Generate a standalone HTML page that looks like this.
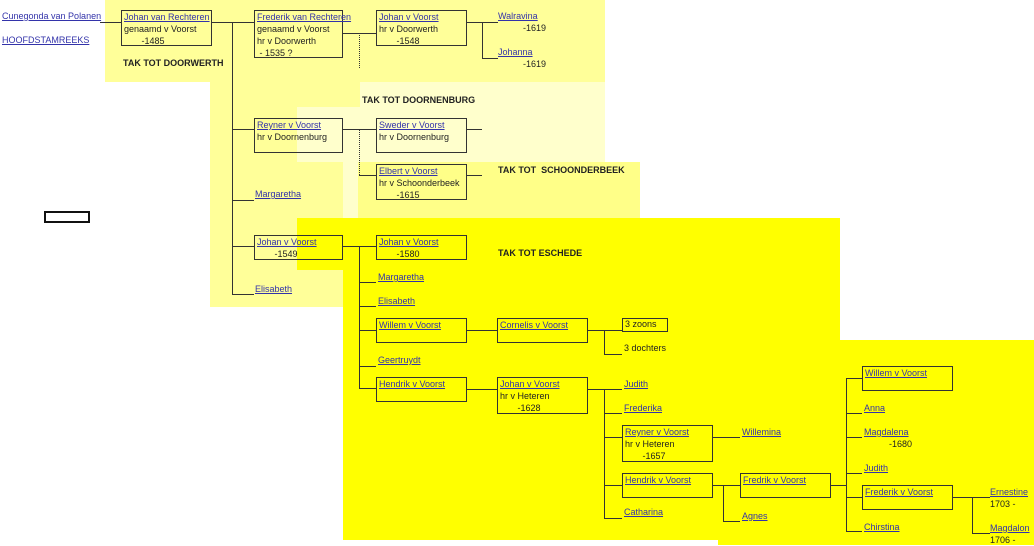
<!DOCTYPE html>
<html><head><meta charset="utf-8"><style>
body{margin:0;width:1034px;height:545px;position:relative;overflow:hidden;background:#fff;font-family:"Liberation Sans",Arial,sans-serif;font-size:9px;color:#222;}
div{position:absolute;}
.bg{}
.b{border:1px solid #333;box-sizing:border-box;padding:0 0 0 2px;line-height:12px;white-space:nowrap;}
.t{line-height:12px;white-space:nowrap;}
a{color:#3333aa;text-decoration:underline;}
.h{height:1px;background:#333;}
.v{width:1px;background:#333;}
.d{width:0;border-left:1px dotted #333;}
.k{font-weight:bold;font-size:9px;color:#222;white-space:nowrap;}
</style></head><body>
<!-- backgrounds -->
<div style="left:105px;top:0;width:500px;height:82px;background:#ffff99"></div>
<div style="left:210px;top:82px;width:150px;height:225px;background:#ffff99"></div>
<div style="left:360px;top:82px;width:245px;height:25px;background:#ffffcc"></div>
<div style="left:297px;top:107px;width:308px;height:55px;background:#ffffcc"></div>
<div style="left:343px;top:162px;width:15px;height:56px;background:#ffffcc"></div>
<div style="left:358px;top:162px;width:282px;height:56px;background:#ffff88"></div>
<div style="left:297px;top:218px;width:543px;height:52px;background:#ffff00"></div>
<div style="left:343px;top:270px;width:497px;height:270px;background:#ffff00"></div>
<div style="left:840px;top:340px;width:194px;height:205px;background:#ffff00"></div>
<div style="left:718px;top:340px;width:122px;height:205px;background:#ffff00"></div>
<div style="left:44px;top:211px;width:46px;height:12px;border:2px solid #111;box-sizing:border-box"></div>

<!-- left labels -->
<div class="t" style="left:2px;top:10px"><a>Cunegonda van Polanen</a></div>
<div class="t" style="left:2px;top:34px"><a>HOOFDSTAMREEKS</a></div>
<div class="h" style="left:100px;top:22px;width:21px"></div>

<div class="k" style="left:123px;top:58px">TAK TOT DOORWERTH</div>
<div class="k" style="left:362px;top:95px">TAK TOT DOORNENBURG</div>
<div class="k" style="left:498px;top:165px">TAK TOT &nbsp;SCHOONDERBEEK</div>
<div class="k" style="left:498px;top:248px">TAK TOT ESCHEDE</div>

<!-- boxes -->
<div class="b" style="left:121px;top:10px;width:91px;height:36px"><a>Johan van Rechteren</a><br>genaamd v Voorst<br>&nbsp;&nbsp;&nbsp;&nbsp;&nbsp;&nbsp;&nbsp;-1485</div>
<div class="b" style="left:254px;top:10px;width:89px;height:48px"><a>Frederik van Rechteren</a><br>genaamd v Voorst<br>hr v Doorwerth<br>&nbsp;- 1535 ?</div>
<div class="b" style="left:376px;top:10px;width:91px;height:36px"><a>Johan v Voorst</a><br>hr v Doorwerth<br>&nbsp;&nbsp;&nbsp;&nbsp;&nbsp;&nbsp;&nbsp;-1548</div>
<div class="t" style="left:498px;top:10px"><a>Walravina</a><br>&nbsp;&nbsp;&nbsp;&nbsp;&nbsp;&nbsp;&nbsp;&nbsp;&nbsp;&nbsp;-1619</div>
<div class="t" style="left:498px;top:46px"><a>Johanna</a><br>&nbsp;&nbsp;&nbsp;&nbsp;&nbsp;&nbsp;&nbsp;&nbsp;&nbsp;&nbsp;-1619</div>

<div class="b" style="left:254px;top:118px;width:89px;height:35px"><a>Reyner v Voorst</a><br>hr v Doornenburg</div>
<div class="b" style="left:376px;top:118px;width:91px;height:35px"><a>Sweder v Voorst</a><br>hr v Doornenburg</div>
<div class="b" style="left:376px;top:164px;width:91px;height:36px"><a>Elbert v Voorst</a><br>hr v Schoonderbeek<br>&nbsp;&nbsp;&nbsp;&nbsp;&nbsp;&nbsp;&nbsp;-1615</div>
<div class="t" style="left:255px;top:188px"><a>Margaretha</a></div>
<div class="b" style="left:254px;top:235px;width:89px;height:25px"><a>Johan v Voorst</a><br>&nbsp;&nbsp;&nbsp;&nbsp;&nbsp;&nbsp;&nbsp;-1549</div>
<div class="t" style="left:255px;top:283px"><a>Elisabeth</a></div>

<div class="b" style="left:376px;top:235px;width:91px;height:25px"><a>Johan v Voorst</a><br>&nbsp;&nbsp;&nbsp;&nbsp;&nbsp;&nbsp;&nbsp;-1580</div>
<div class="t" style="left:378px;top:271px"><a>Margaretha</a></div>
<div class="t" style="left:378px;top:295px"><a>Elisabeth</a></div>
<div class="b" style="left:376px;top:318px;width:91px;height:25px"><a>Willem v Voorst</a></div>
<div class="b" style="left:497px;top:318px;width:91px;height:25px"><a>Cornelis v Voorst</a></div>
<div class="b" style="left:622px;top:318px;width:46px;height:14px;line-height:11px">3 zoons</div>
<div class="t" style="left:624px;top:342px">3 dochters</div>
<div class="t" style="left:378px;top:354px"><a>Geertruydt</a></div>
<div class="b" style="left:376px;top:377px;width:91px;height:25px"><a>Hendrik v Voorst</a></div>
<div class="b" style="left:497px;top:377px;width:91px;height:37px"><a>Johan v Voorst</a><br>hr v Heteren<br>&nbsp;&nbsp;&nbsp;&nbsp;&nbsp;&nbsp;&nbsp;-1628</div>
<div class="t" style="left:624px;top:378px"><a>Judith</a></div>
<div class="t" style="left:624px;top:402px"><a>Frederika</a></div>
<div class="b" style="left:622px;top:425px;width:91px;height:37px"><a>Reyner v Voorst</a><br>hr v Heteren<br>&nbsp;&nbsp;&nbsp;&nbsp;&nbsp;&nbsp;&nbsp;-1657</div>
<div class="t" style="left:742px;top:426px"><a>Willemina</a></div>
<div class="b" style="left:622px;top:473px;width:91px;height:25px"><a>Hendrik v Voorst</a></div>
<div class="t" style="left:624px;top:506px"><a>Catharina</a></div>
<div class="b" style="left:740px;top:473px;width:91px;height:25px"><a>Fredrik v Voorst</a></div>
<div class="t" style="left:742px;top:510px"><a>Agnes</a></div>
<div class="b" style="left:862px;top:366px;width:91px;height:25px"><a>Willem v Voorst</a></div>
<div class="t" style="left:864px;top:402px"><a>Anna</a></div>
<div class="t" style="left:864px;top:426px"><a>Magdalena</a><br>&nbsp;&nbsp;&nbsp;&nbsp;&nbsp;&nbsp;&nbsp;&nbsp;&nbsp;&nbsp;-1680</div>
<div class="t" style="left:864px;top:462px"><a>Judith</a></div>
<div class="b" style="left:862px;top:485px;width:91px;height:25px"><a>Frederik v Voorst</a></div>
<div class="t" style="left:864px;top:521px"><a>Chirstina</a></div>
<div class="t" style="left:990px;top:486px"><a>Ernestine</a><br>1703 -</div>
<div class="t" style="left:990px;top:522px"><a>Magdalon</a><br>1706 -</div>

<!-- lines -->
<div class="h" style="left:211px;top:22px;width:43px"></div>
<div class="v" style="left:232px;top:22px;height:272px"></div>
<div class="h" style="left:232px;top:129px;width:22px"></div>
<div class="h" style="left:232px;top:200px;width:22px"></div>
<div class="h" style="left:232px;top:246px;width:22px"></div>
<div class="h" style="left:232px;top:294px;width:22px"></div>

<div class="h" style="left:342px;top:33px;width:34px"></div>
<div class="d" style="left:359px;top:33px;height:35px"></div>
<div class="h" style="left:466px;top:22px;width:32px"></div>
<div class="v" style="left:482px;top:22px;height:36px"></div>
<div class="h" style="left:482px;top:58px;width:16px"></div>

<div class="h" style="left:342px;top:129px;width:34px"></div>
<div class="d" style="left:359px;top:129px;height:46px"></div>
<div class="h" style="left:359px;top:175px;width:17px"></div>
<div class="h" style="left:466px;top:129px;width:16px"></div>
<div class="h" style="left:466px;top:175px;width:16px"></div>

<div class="h" style="left:342px;top:246px;width:34px"></div>
<div class="v" style="left:359px;top:246px;height:142px"></div>
<div class="h" style="left:359px;top:282px;width:17px"></div>
<div class="h" style="left:359px;top:306px;width:17px"></div>
<div class="h" style="left:359px;top:330px;width:17px"></div>
<div class="h" style="left:359px;top:366px;width:17px"></div>
<div class="h" style="left:359px;top:388px;width:17px"></div>
<div class="h" style="left:466px;top:330px;width:31px"></div>
<div class="h" style="left:587px;top:330px;width:35px"></div>
<div class="v" style="left:604px;top:330px;height:24px"></div>
<div class="h" style="left:604px;top:354px;width:18px"></div>
<div class="h" style="left:466px;top:389px;width:31px"></div>
<div class="h" style="left:587px;top:389px;width:35px"></div>
<div class="v" style="left:604px;top:389px;height:129px"></div>
<div class="h" style="left:604px;top:413px;width:18px"></div>
<div class="h" style="left:604px;top:437px;width:18px"></div>
<div class="h" style="left:604px;top:485px;width:18px"></div>
<div class="h" style="left:604px;top:518px;width:18px"></div>
<div class="h" style="left:712px;top:437px;width:28px"></div>
<div class="h" style="left:712px;top:485px;width:28px"></div>
<div class="v" style="left:723px;top:485px;height:36px"></div>
<div class="h" style="left:723px;top:521px;width:17px"></div>
<div class="h" style="left:830px;top:485px;width:16px"></div>
<div class="v" style="left:846px;top:378px;height:153px"></div>
<div class="h" style="left:846px;top:378px;width:16px"></div>
<div class="h" style="left:846px;top:413px;width:16px"></div>
<div class="h" style="left:846px;top:437px;width:16px"></div>
<div class="h" style="left:846px;top:473px;width:16px"></div>
<div class="h" style="left:846px;top:497px;width:16px"></div>
<div class="h" style="left:846px;top:531px;width:16px"></div>
<div class="h" style="left:952px;top:497px;width:38px"></div>
<div class="v" style="left:972px;top:497px;height:36px"></div>
<div class="h" style="left:972px;top:533px;width:18px"></div>
</body></html>
